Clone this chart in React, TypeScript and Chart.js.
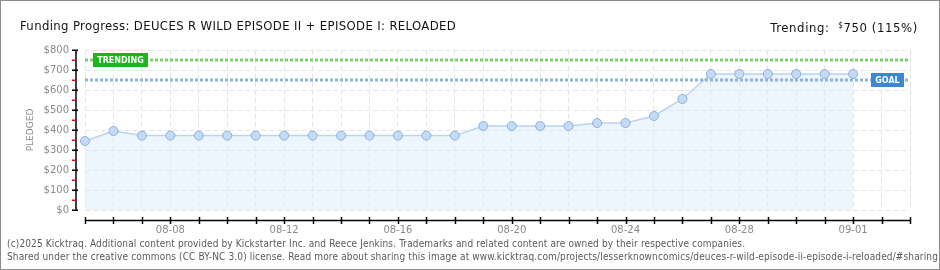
import React, { useEffect, useRef } from 'react';
import { Chart, registerables } from 'chart.js';

Chart.register(...registerables);

// Days on the x axis (08-05 .. 09-03)
const dates = [
  '08-05', '08-06', '08-07', '08-08', '08-09', '08-10', '08-11', '08-12', '08-13', '08-14',
  '08-15', '08-16', '08-17', '08-18', '08-19', '08-20', '08-21', '08-22', '08-23', '08-24',
  '08-25', '08-26', '08-27', '08-28', '08-29', '08-30', '08-31', '09-01', '09-02', '09-03',
];
// Pledged amount per day (08-05 .. 09-01)
const pledged = [
  345, 395, 372, 372, 372, 372, 372, 372, 372, 372, 372, 372, 372, 372,
  420, 420, 420, 420, 435, 435, 470, 555, 680, 680, 680, 680, 680, 680,
];
const xTickLabels = ['08-08', '08-12', '08-16', '08-20', '08-24', '08-28', '09-01'];
const yTicks = [0, 100, 200, 300, 400, 500, 600, 700, 800];
const yMinorTicks = [50, 150, 250, 350, 450, 550, 650, 750];
const goal = 650;
const trending = 750;

const TITLE = 'Funding Progress: DEUCES R WILD EPISODE II + EPISODE I: RELOADED';
const FOOT1 = '(c)2025 Kicktraq. Additional content provided by Kickstarter Inc. and Reece Jenkins. Trademarks and related content are owned by their respective companies.';
const FOOT2 = 'Shared under the creative commons (CC BY-NC 3.0) license. Read more about sharing this image at www.kicktraq.com/projects/lesserknowncomics/deuces-r-wild-episode-ii-episode-i-reloaded/#sharing';

const overlayPlugin = {
  id: 'kicktraqOverlay',
  afterDatasetsDraw(chart: any) {
    const { ctx, chartArea, scales } = chart;
    const y = scales.y;
    const refLine = (val: number, color: string) => {
      const py = Math.round(y.getPixelForValue(val));
      ctx.save();
      ctx.strokeStyle = color;
      ctx.lineWidth = 3;
      ctx.setLineDash([3, 2]);
      ctx.beginPath();
      ctx.moveTo(chartArea.left, py);
      ctx.lineTo(chartArea.right, py);
      ctx.stroke();
      ctx.restore();
      return py;
    };
    const box = (x0: number, cy: number, w: number, text: string, color: string) => {
      ctx.save();
      ctx.fillStyle = color;
      ctx.fillRect(x0, cy - 7, w, 14);
      ctx.fillStyle = '#ffffff';
      ctx.font = 'bold 8px "DejaVu Sans"';
      ctx.textAlign = 'center';
      ctx.textBaseline = 'middle';
      ctx.fillText(text, x0 + w / 2, cy + 0.5);
      ctx.restore();
    };
    const ty = refLine(trending, '#7fcf6e');
    const gy = refLine(goal, '#8fb3dc');
    box(chartArea.left + 8, ty, 55, 'TRENDING', '#1cb51c');
    box(chartArea.right - 39, gy, 33, 'GOAL', '#3a87d5');
  },
  afterDraw(chart: any) {
    const { ctx, chartArea, scales } = chart;
    const x = scales.x;
    const y = scales.y;
    ctx.save();
    // y axis
    const ax = 76;
    ctx.strokeStyle = '#000000';
    ctx.lineWidth = 1.5;
    ctx.beginPath();
    ctx.moveTo(ax, y.getPixelForValue(800));
    ctx.lineTo(ax, y.getPixelForValue(0) + 1);
    ctx.stroke();
    yTicks.forEach((v) => {
      const py = Math.round(y.getPixelForValue(v)) + 0.25;
      ctx.beginPath();
      ctx.moveTo(72, py);
      ctx.lineTo(78, py);
      ctx.stroke();
    });
    ctx.strokeStyle = '#ff0000';
    ctx.lineWidth = 1.5;
    yMinorTicks.forEach((v) => {
      const py = Math.round(y.getPixelForValue(v)) + 0.25;
      ctx.beginPath();
      ctx.moveTo(72, py);
      ctx.lineTo(75.5, py);
      ctx.stroke();
    });
    // x axis
    const ay = chartArea.bottom + 10.5;
    ctx.strokeStyle = '#000000';
    ctx.lineWidth = 1.5;
    ctx.beginPath();
    ctx.moveTo(x.getPixelForValue(0), ay);
    ctx.lineTo(x.getPixelForValue(dates.length - 1), ay);
    ctx.stroke();
    dates.forEach((_, i) => {
      const px = Math.round(x.getPixelForValue(i)) + 0.5;
      ctx.beginPath();
      ctx.moveTo(px, ay - 3.5);
      ctx.lineTo(px, ay + 3.5);
      ctx.stroke();
    });
    // y title
    ctx.translate(31, (chartArea.top + chartArea.bottom) / 2);
    ctx.rotate(-Math.PI / 2);
    ctx.fillStyle = '#8a8a8a';
    ctx.font = '9px "DejaVu Sans"';
    ctx.textAlign = 'center';
    ctx.textBaseline = 'middle';
    ctx.fillText('PLEDGED', 0, 0);
    ctx.restore();
  },
};

export default function App() {
  const canvasRef = useRef<HTMLCanvasElement | null>(null);

  useEffect(() => {
    if (!canvasRef.current) return;
    const chart = new Chart(canvasRef.current, {
      type: 'line',
      data: {
        labels: dates,
        datasets: [
          {
            data: pledged,
            borderColor: '#b7d4f2',
            borderWidth: 1.5,
            backgroundColor: 'rgba(222,236,251,0.55)',
            fill: 'origin',
            tension: 0,
            pointRadius: 4.5,
            pointBackgroundColor: '#c3dbf6',
            pointBorderColor: '#8eafd6',
            pointBorderWidth: 1,
          },
        ],
      },
      options: {
        responsive: false,
        animation: false,
        events: [],
        layout: { padding: { left: 0, right: 30, top: 50, bottom: 0 } },
        plugins: {
          legend: { display: false },
          tooltip: { enabled: false },
          title: { display: false },
        },
        scales: {
          x: {
            type: 'category',
            offset: false,
            afterFit: (s: any) => { s.height = 60; },
            grid: { color: '#e4e4e4', lineWidth: 1, drawTicks: false },
            border: { display: false, dash: [5, 3] },
            ticks: {
              autoSkip: false,
              maxRotation: 0,
              padding: 14,
              color: '#8a8a8a',
              font: { family: '"DejaVu Sans"', size: 10 },
              callback: function (this: any, value: any) {
                const lbl = this.getLabelForValue(value);
                return xTickLabels.includes(lbl) ? lbl : '';
              },
            },
          },
          y: {
            min: 0,
            max: 800,
            afterFit: (s: any) => { s.width = 85; },
            grid: { color: '#e4e4e4', lineWidth: 1, drawTicks: false },
            border: { display: false, dash: [5, 3] },
            afterBuildTicks: (s: any) => { s.ticks = yTicks.map((v) => ({ value: v })); },
            ticks: {
              padding: 16,
              color: '#8a8a8a',
              font: { family: '"DejaVu Sans"', size: 10 },
              callback: (v: any) => '$' + v,
            },
          },
        },
      },
      plugins: [overlayPlugin],
    });
    return () => chart.destroy();
  }, []);

  const headFont = {
    fontFamily: '"DejaVu Sans Condensed", "DejaVu Sans"',
    fontStretch: 'condensed',
    fontSize: 13,
    lineHeight: '13px',
    color: '#111',
    whiteSpace: 'nowrap' as const,
  };

  return (
    <div
      style={{
        position: 'fixed',
        left: 0,
        top: 0,
        width: 940,
        height: 270,
        boxSizing: 'border-box',
        border: '1px solid #8c8c8c',
        background: '#ffffff',
        overflow: 'hidden',
      }}
    >
      <canvas
        ref={canvasRef}
        width={940}
        height={270}
        style={{ position: 'absolute', left: -1, top: -1, width: 940, height: 270 }}
      />
      <div style={{ ...headFont, position: 'absolute', left: 19, top: 18, letterSpacing: '0.35px' }}>
        {TITLE}
      </div>
      <div style={{ ...headFont, position: 'absolute', right: 21, top: 18, letterSpacing: '0.6px' }}>
        Trending:&nbsp;{' '}
        <span style={{ fontSize: 8, verticalAlign: 4 }}>$</span>750 (115%)
      </div>
      <div
        style={{
          position: 'absolute',
          left: 6,
          top: 236,
          fontFamily: '"DejaVu Sans Condensed", "DejaVu Sans"',
          fontStretch: 'condensed',
          fontSize: 10,
          lineHeight: '13px',
          letterSpacing: '0.14px',
          color: '#5a5a5a',
          whiteSpace: 'nowrap',
        }}
      >
        <div>{FOOT1}</div>
        <div>{FOOT2}</div>
      </div>
    </div>
  );
}
